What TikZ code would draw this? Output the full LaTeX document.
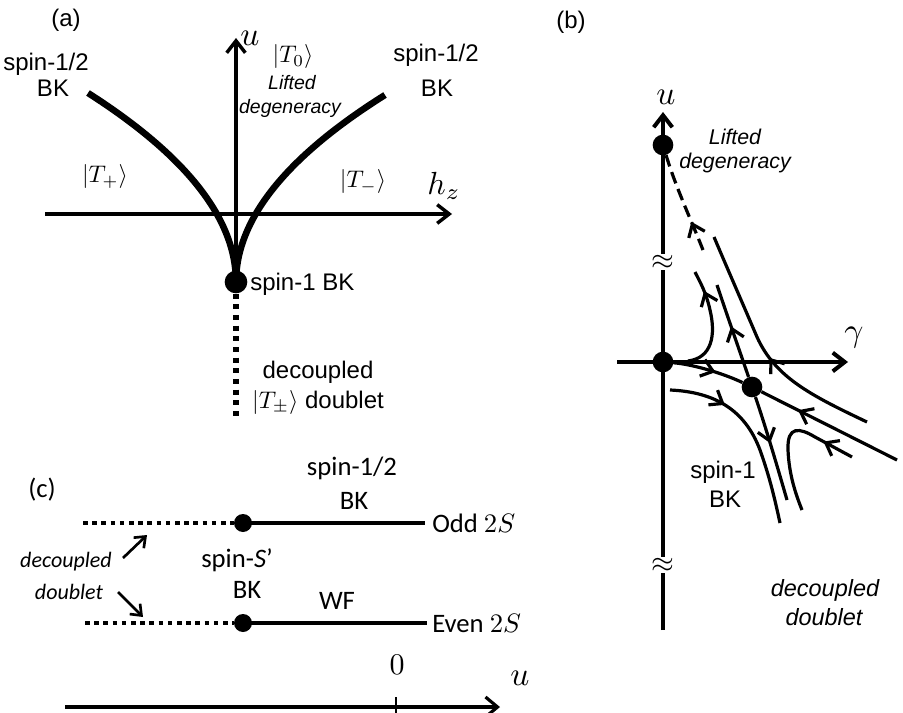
\RequirePackage{fix-cm}
\documentclass[tikz,border=0pt]{standalone}
\usepackage[no-math]{fontspec}
\setmainfont{Liberation Sans}
\newfontfamily\calfont{Carlito}
\usetikzlibrary{arrows.meta,decorations.markings}
\newcommand\mymath[2]{\scalebox{#1}{\fontsize{10}{12}\selectfont$#2$}}
\begin{document}
\begin{tikzpicture}[x=0.75pt,y=-0.75pt,
  txtA/.style={font=\fontsize{18}{21}\selectfont, inner sep=0pt},
  itA/.style={font=\fontsize{14.6}{17}\selectfont\itshape, inner sep=0pt},
  itB/.style={font=\fontsize{16}{19}\selectfont\itshape, inner sep=0pt},
  itD/.style={font=\fontsize{17.6}{20}\selectfont\itshape, inner sep=0pt},
  mathA/.style={inner sep=0pt},
  txtC/.style={font=\fontsize{20}{24}\selectfont\calfont, inner sep=0pt},
  itC/.style={font=\fontsize{16.5}{19}\selectfont\calfont\itshape, inner sep=0pt},
  dotA/.style={circle, fill=black, inner sep=0pt, minimum size=17pt},
  dotB/.style={circle, fill=black, inner sep=0pt, minimum size=15.5pt},
  dotC/.style={circle, fill=black, inner sep=0pt, minimum size=13.5pt},
  axisA/.style={line width=2.6pt, -{Straight Barb[length=9pt,width=14pt]}},
  axisB/.style={line width=3pt, -{Straight Barb[length=9pt,width=14pt]}},
  curveA/.style={line width=4.9pt},
  flow/.style={line width=2.4pt},
  midarrow/.style={postaction={decorate,decoration={markings,
     mark=at position #1 with {\arrow{Straight Barb[length=8.5pt,width=13pt]}}}}},
  dotline/.style={line width=3.9pt, dash pattern=on 3.9pt off 4.1pt},
  dotlineC/.style={line width=3.4pt, dash pattern=on 3.4pt off 3.5pt},
  solidC/.style={line width=3.4pt},
  smallarr/.style={line width=2pt, -{Straight Barb[length=7pt,width=11pt]}},
]
\useasboundingbox (0,0) rectangle (903,713);
\fill[white] (0,0) rectangle (903,713);

%%%%%%%%%%%%%%%% (a)
\node[txtA] (la) at (66,20) {(a)};
\node[dotA] (A0) at (236,282) {};
\coordinate (Atop) at (236,38);
\coordinate (Ahl) at (45,214);
\coordinate (Ahr) at (452,214);
\coordinate (AL) at (88,93);
\coordinate (AR) at (385,95);
\coordinate (Abot) at (236,418);
\draw[axisA] (Ahl) -- (Ahr);
\draw[axisA] (A0.center) -- (Atop);
\draw[curveA] (A0.center) .. controls (236,219) and (186.7,156) .. (AL);
\draw[curveA] (A0.center) .. controls (236,219.7) and (285.7,157.3) .. (AR);
\draw[dotline] (A0.south) -- (Abot);
\node[mathA] (ua) at (250,38) {\mymath{2.5}{u}};
\node[mathA] (hz) at (444,186) {\mymath{2.4}{h_z}};
\node[txtA] (sl1) at (46,64) {spin-1/2};
\node[txtA] (sl2) at (53,88) {BK};
\node[txtA] (sr1) at (436,55) {spin-1/2};
\node[txtA] (sr2) at (437,88) {BK};
\node[mathA] (t0) at (293,57) {\mymath{1.8}{|T_0\rangle}};
\node[itA] (lf1) at (292,83) {Lifted};
\node[itA] (lf2) at (290,108) {degeneracy};
\node[mathA] (tp) at (105,177) {\mymath{1.8}{|T_+\rangle}};
\node[mathA] (tm) at (363,182) {\mymath{1.8}{|T_-\rangle}};
\node[txtA, anchor=west] (s1bk) at (250,284) {spin-1 BK};
\node[txtA] (dc1) at (318,372) {decoupled};
\node[txtA] (dc2) at (318,402) {\mymath{1.8}{|T_\pm\rangle} doublet};

%%%%%%%%%%%%%%%% (b)
\node[txtA] (lb) at (571,22) {(b)};
\coordinate (Bbot) at (663,630);
\coordinate (Btop) at (663,112);
\coordinate (Bgl) at (617,362);
\coordinate (Bgr) at (848,362);
\draw[axisB] (Bbot) -- (Btop);
\draw[axisB] (Bgl) -- (Bgr);
\node[fill=white, inner sep=0.5pt] (ap1) at (663,262) {\mymath{2.2}{\approx}};
\node[fill=white, inner sep=0.5pt] (ap2) at (663,565) {\mymath{2.2}{\approx}};
\node[dotB] (UD) at (663,145) {};
\node[dotB] (O) at (663,362) {};
\node[dotB] (S1) at (752,387) {};
\node[mathA] (ub) at (666,97) {\mymath{2.5}{u}};
\node[mathA] (gam) at (854,338) {\mymath{2.5}{\gamma}};
\node[itB] (lb1) at (735,137) {Lifted};
\node[itB] (lb2) at (735,163) {degeneracy};
\node[txtA] (sb1) at (723,472) {spin-1};
\node[txtA] (sb2) at (725,499) {BK};
\node[itD] (db1) at (825,590) {decoupled};
\node[itD] (db2) at (824,617) {doublet};
% flow lines
\coordinate (d1s) at (703,250);
\draw[flow, dash pattern=on 9pt off 4.5pt, midarrow=0.3] (d1s) .. controls (692,222) and (676,188) .. (UD);
\coordinate (uu) at (717,285);
\coordinate (ud) at (787,500);
\draw[flow, midarrow=0.55] (S1) .. controls (740,352) and (728,318) .. (uu);
\draw[flow, midarrow=0.45] (S1) .. controls (765,425) and (776,462) .. (ud);
\coordinate (sr) at (897,460);
\draw[flow, midarrow=0.6] (O) .. controls (690,364) and (720,372) .. (S1);
\draw[flow, midarrow=0.73] (sr) -- (S1);
\coordinate (j0) at (688,361);
\coordinate (j1) at (695,272);
\draw[flow, midarrow=0.8] (j0) .. controls (712,358) and (716,335) .. (710,310) .. controls (706,292) and (700,282) .. (j1);
\coordinate (h0) at (867,422);
\coordinate (h1) at (714,237);
\draw[flow, midarrow=0.47] (h0) .. controls (810,395) and (775,377) .. (757,337) .. controls (742,302) and (728,270) .. (h1);
\coordinate (l0) at (670,390);
\coordinate (l1) at (780,523);
\draw[flow, midarrow=0.3] (l0) .. controls (715,392) and (745,410) .. (760,450) .. controls (770,478) and (775,500) .. (l1);
\coordinate (v0) at (852,457);
\coordinate (v1) at (802,510);
\draw[flow, midarrow=0.22] (v0) -- (815,437) .. controls (800,428) and (787,425) .. (788,450) .. controls (789,475) and (796,495) .. (v1);

%%%%%%%%%%%%%%%% (c)
\node[txtC] (lc) at (42,490) {(c)};
\node[dotC] (C1) at (243,523) {};
\node[dotC] (C2) at (243,623) {};
\coordinate (c1l) at (83,523);
\coordinate (c1r) at (425,523);
\coordinate (c2l) at (85,623);
\coordinate (c2r) at (427,623);
\draw[dotlineC] (c1l) -- (C1.west);
\draw[solidC] (C1.center) -- (c1r);
\draw[dotlineC] (c2l) -- (C2.west);
\draw[solidC] (C2.center) -- (c2r);
\node[txtC, anchor=west] (odd) at (432,523) {Odd \mymath{2}{2S}};
\node[txtC, anchor=west] (even) at (432,623) {Even \mymath{2}{2S}};
\node[txtC] (sc1) at (352,468) {spin-1/2};
\node[txtC] (sc2) at (354,501) {BK};
\node[txtC] (ss1) at (237,560) {spin-\textit{S}’};
\node[txtC] (ss2) at (247,590) {BK};
\node[txtC] (wf) at (337,601) {WF};
\node[itC] (dd1) at (66,562) {decoupled};
\node[itC] (dd2) at (69,592) {doublet};
\coordinate (ar1s) at (123,558);
\coordinate (ar1e) at (147,535);
\coordinate (ar2s) at (118,592);
\coordinate (ar2e) at (143,617);
\draw[smallarr] (ar1s) -- (ar1e);
\draw[smallarr] (ar2s) -- (ar2e);
\coordinate (cxl) at (65,707);
\coordinate (cxr) at (500,707);
\draw[line width=2.4pt, -{Straight Barb[length=9pt,width=15pt]}] (cxl) -- (cxr);
\coordinate (tk1) at (396,697);
\coordinate (tk2) at (396,718);
\draw[line width=1.5pt] (tk1) -- (tk2);
\node[mathA] (zero) at (397,665) {\mymath{2.25}{0}};
\node[mathA] (uc) at (520,678) {\mymath{2.5}{u}};
\end{tikzpicture}
\end{document}
